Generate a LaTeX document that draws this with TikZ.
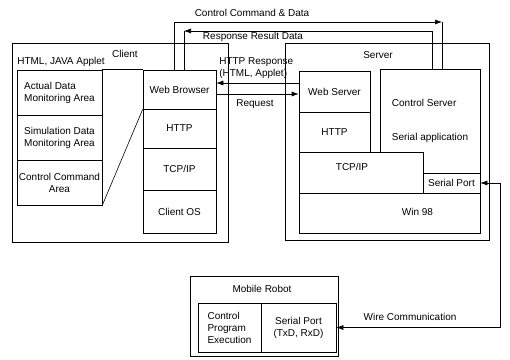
\documentclass[tikz,border=0pt]{standalone}
\usepackage{fontspec}
\setmainfont{Liberation Sans}
\usetikzlibrary{arrows.meta}

\tikzset{
  caja/.style={draw, inner sep=1pt, font=\fontsize{10}{12}\selectfont, align=center},
  etiq/.style={font=\fontsize{10}{12}\selectfont, inner sep=0pt},
  flecha/.style={-{Latex[length=7pt,width=5pt]}},
}

\begin{document}
\begin{tikzpicture}[x=1pt, y=-1pt, line width=0.6pt]
        \useasboundingbox (0,0) rectangle (510,359);

        % Cliente
        \node[caja, minimum width=216, minimum height=199] (client) at (120,142.5) {};
        \node[etiq] (lblclient) at (125,54) {Client};
        \node[etiq, anchor=west] (lblapplet) at (17,62) {HTML, JAVA Applet};
        \node[caja, minimum width=85, minimum height=45, align=left] (act) at (59.5,92.5) {Actual Data\\Monitoring Area};
        \node[caja, minimum width=85, minimum height=45, align=left] (sim) at (59.5,137.5) {Simulation Data\\Monitoring Area};
        \node[caja, minimum width=85, minimum height=45] (cmd) at (59.5,182.5) {Control Command\\Area};
        \node[caja, minimum width=73, minimum height=39] (wb) at (179.5,89.5) {Web Browser};
        \node[caja, minimum width=73, minimum height=39] (chttp) at (179.5,128.5) {HTTP};
        \node[caja, minimum width=73, minimum height=42] (ctcp) at (179.5,169) {TCP/IP};
        \node[caja, minimum width=73, minimum height=43] (cos) at (179.5,211.5) {Client OS};
        \draw (act.north east) -- (wb.north west);
        \draw (wb.south west) -- (cmd.south east);

        % Servidor
        \node[caja, minimum width=204, minimum height=197] (srv) at (387,141.5) {};
        \node[etiq] (lblserver) at (378,55) {Server};
        \node[caja, minimum width=71, minimum height=41] (ws) at (334.5,91.5) {Web Server};
        \node[caja, minimum width=71, minimum height=40] (shttp) at (334.5,132) {HTTP};
        \node[caja, minimum width=100, minimum height=104, align=left] (cs) at (430,121) {Control Server\\[22pt]Serial application};
        \node[caja, fill=white, minimum width=124, minimum height=41,
              label={[etiq, xshift=-9pt, yshift=5.5pt]center:TCP/IP}] (stcp) at (361,172.5) {};
        \node[caja, minimum width=57, minimum height=20] (sp) at (451.5,183) {Serial Port};
        \node[caja, minimum width=181, minimum height=40,
              label={[etiq, xshift=28pt, yshift=1pt]center:Win 98}] (win) at (389.5,213) {};

        % Robot movil
        \node[caja, minimum width=148, minimum height=80] (robot) at (264,316) {};
        \node[etiq] (lblrobot) at (262,289) {Mobile Robot};
        \node[caja, minimum width=63, minimum height=49, align=left] (cpe) at (229.5,327.5) {Control\\Program\\Execution};
        \node[caja, minimum width=75, minimum height=49] (rsp) at (298.5,327.5) {Serial Port\\(TxD, RxD)};

        % Conexiones
        \coordinate (ccd) at (442,22);
        \draw[flecha] ([xshift=-5.5pt]wb.north) |- (ccd);
        \draw (ccd) -- (ccd |- cs.north);
        \node[etiq] (lblccd) at (252,13) {Control Command \& Data};

        \coordinate (rrd) at (184,31);
        \draw[flecha] ([xshift=2pt]cs.north) |- (rrd);
        \draw (rrd) -- (rrd |- wb.north);
        \node[etiq] (lblrrd) at (253,37) {Response Result Data};

        \draw[flecha] (ws.west |- 0,83) -- (wb.east |- 0,83);
        \draw[flecha] (wb.east |- 0,94) -- (ws.west |- 0,94);
        \node[etiq, anchor=west, align=left] (lblresp) at (219,68) {HTTP Response\\(HTML, Applet)};
        \node[etiq] (lblreq) at (255,104) {Request};

        \draw[{Latex[length=7pt,width=5pt]}-{Latex[length=7pt,width=5pt]}] (sp.east) -- ++(20,0) |- (rsp.east);
        \node[etiq] (lblwire) at (410,317) {Wire Communication};
    \end{tikzpicture}
\end{document}
